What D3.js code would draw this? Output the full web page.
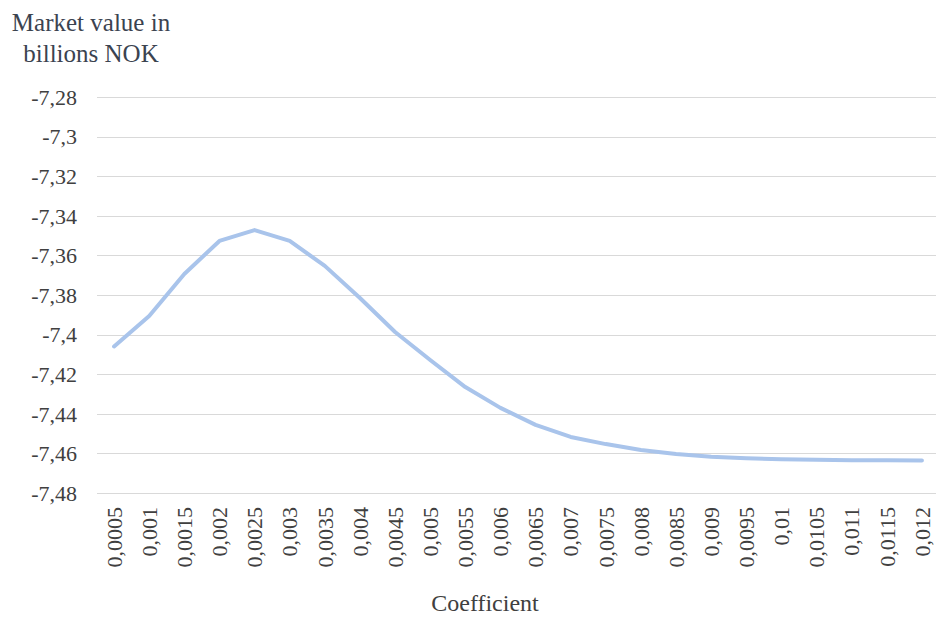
<!DOCTYPE html>
<html><head><meta charset="utf-8">
<script src="https://cdn.jsdelivr.net/npm/d3@7"></script>
<style>body{margin:0;background:#fff;}</style>
</head><body>
<svg id="c" width="936" height="619" font-family="'Liberation Serif', 'Times New Roman', Tinos, Times, 'DejaVu Serif', 'Noto Serif', serif"></svg>
<script>
const categories = ["0,0005","0,001","0,0015","0,002","0,0025","0,003","0,0035","0,004","0,0045","0,005","0,0055","0,006","0,0065","0,007","0,0075","0,008","0,0085","0,009","0,0095","0,01","0,0105","0,011","0,0115","0,012"];
const values = [-7.406,-7.3906,-7.3694,-7.3527,-7.3472,-7.3527,-7.3653,-7.3815,-7.3987,-7.4128,-7.4265,-7.437,-7.4456,-7.4517,-7.4553,-7.4583,-7.4603,-7.4617,-7.4625,-7.463,-7.4632,-7.4634,-7.4635,-7.4636];
const yTicks = [-7.48,-7.46,-7.44,-7.42,-7.40,-7.38,-7.36,-7.34,-7.32,-7.30,-7.28];
const yTickLabels = ["-7,48","-7,46","-7,44","-7,42","-7,4","-7,38","-7,36","-7,34","-7,32","-7,3","-7,28"];
const yTitle = ["Market value in","billions NOK"];
const xTitle = "Coefficient";

const svg = d3.select("#c");
const x = d3.scaleBand().domain(categories).range([96.5, 939.5]);
const y = d3.scaleLinear().domain([-7.48, -7.28]).range([493, 97]);

svg.append("g").selectAll("line").data(yTicks).join("line")
  .attr("x1", 97).attr("x2", 936)
  .attr("y1", d => Math.round(y(d)) + 0.5).attr("y2", d => Math.round(y(d)) + 0.5)
  .attr("stroke", "#d9d9d9").attr("stroke-width", 1);

svg.append("g").selectAll("text").data(yTicks).join("text")
  .attr("x", 77).attr("y", d => y(d)).attr("dy", "0.35em")
  .attr("text-anchor", "end").attr("font-size", 22).attr("fill", "#404040")
  .text((d, i) => yTickLabels[i]);

svg.append("g").selectAll("text").data(categories).join("text")
  .attr("transform", d => `translate(${x(d) + x.bandwidth()/2},507) rotate(-90)`)
  .attr("dy", "0.35em")
  .attr("text-anchor", "end").attr("font-size", 22).attr("fill", "#404040")
  .text(d => d);

const line = d3.line().x((d, i) => x(categories[i]) + x.bandwidth()/2).y(d => y(d));
svg.append("path").datum(values).attr("d", line)
  .attr("fill", "none").attr("stroke", "#a9c4eb").attr("stroke-width", 4)
  .attr("stroke-linejoin", "round").attr("stroke-linecap", "round");

svg.append("g").selectAll("text").data(yTitle).join("text")
  .attr("x", 91).attr("y", (d, i) => 31 + i * 31)
  .attr("text-anchor", "middle").attr("font-size", 25).attr("fill", "#3b4350")
  .text(d => d);

svg.append("text").attr("x", 485).attr("y", 611)
  .attr("text-anchor", "middle").attr("font-size", 24).attr("fill", "#404040")
  .text(xTitle);
</script>
</body></html>
